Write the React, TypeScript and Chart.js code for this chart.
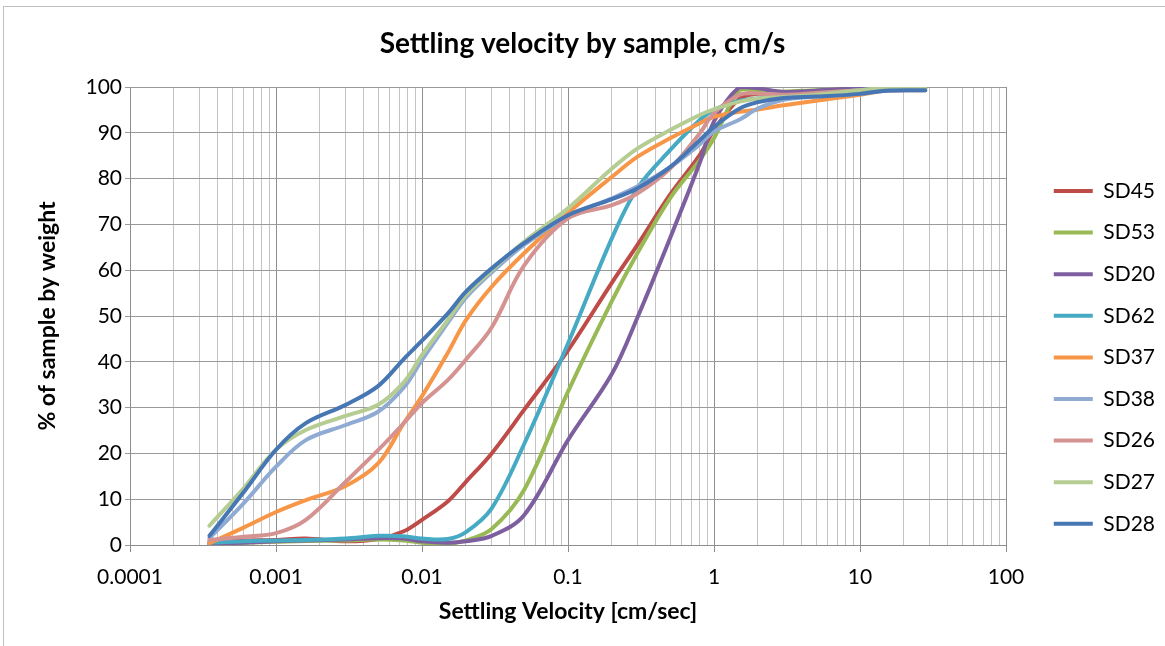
import React, { useEffect, useRef } from 'react';
import { Chart, registerables } from 'chart.js';

Chart.register(...registerables);

// Settling velocity (cm/s) at which each percentage was read
const velocities = [0.00035, 0.0006, 0.001, 0.0016, 0.003, 0.005, 0.0075, 0.01, 0.015, 0.02, 0.03, 0.05, 0.1, 0.2, 0.3, 0.5, 0.8, 1, 1.5, 2, 3, 5, 10, 15, 28];

const sd45 = [0.7, 1.0, 1.1, 1.4, 0.8, 1.3, 3.0, 5.5, 9.5, 13.8, 20.0, 29.5, 42.5, 57.3, 65.6, 76.5, 85.2, 90.6, 97.5, 98.5, 98.6, 99.0, 99.5, 99.7, 99.7];
const sd53 = [0.2, 0.5, 0.7, 0.9, 1.0, 1.2, 1.0, 0.5, 0.3, 1.0, 3.5, 12.0, 33.5, 53.3, 63.8, 75.7, 84.1, 88.8, 99.3, 99.0, 99.0, 99.3, 99.6, 99.8, 99.8];
const sd20 = [0.3, 0.5, 0.8, 1.0, 1.2, 1.5, 1.4, 0.8, 0.5, 0.8, 2.0, 6.5, 22.9, 37.4, 49.8, 67.0, 83.5, 92.5, 100, 99.7, 98.9, 99.2, 99.8, 100, 100];
const sd62 = [0.5, 0.8, 1.0, 1.1, 1.4, 2.0, 1.9, 1.4, 1.3, 2.8, 8.0, 22.0, 44.0, 67.0, 78.0, 86.2, 92.8, 95.0, 97.0, 97.5, 98.0, 98.5, 99.3, 99.7, 99.7];
const sd37 = [0.4, 3.8, 7.2, 9.8, 12.9, 17.8, 26.6, 32.5, 41.9, 49.1, 56.4, 63.7, 72.5, 80.4, 84.8, 88.8, 92.1, 93.5, 94.6, 95.1, 96.0, 97.0, 98.3, 99.2, 99.3];
const sd38 = [1.5, 9.1, 17.1, 22.9, 26.2, 29.1, 34.4, 40.4, 48.5, 54.0, 59.5, 65.5, 71.8, 75.7, 78.3, 82.5, 87.5, 90.3, 92.9, 95.3, 97.2, 97.9, 98.5, 99.2, 99.3];
const sd26 = [1.1, 1.8, 2.6, 5.5, 13.8, 20.7, 26.6, 31.0, 36.0, 40.5, 47.5, 61.0, 71.3, 74.2, 76.8, 82.2, 89.9, 94.3, 98.3, 98.6, 98.3, 98.7, 99.3, 99.7, 99.7];
const sd27 = [4.2, 12.4, 20.8, 25.1, 28.2, 30.6, 35.5, 41.5, 49.1, 54.6, 60.0, 66.2, 73.5, 82.2, 86.6, 90.6, 93.9, 95.1, 96.8, 97.5, 97.8, 98.3, 99.3, 99.8, 99.8];
const sd28 = [2.0, 11.5, 20.8, 26.6, 30.6, 34.7, 40.6, 44.6, 50.5, 55.3, 60.4, 65.9, 72.0, 75.5, 77.9, 82.5, 88.4, 91.3, 95.3, 96.7, 97.6, 97.9, 98.5, 99.2, 99.3];

const seriesNames = ['SD45', 'SD53', 'SD20', 'SD62', 'SD37', 'SD38', 'SD26', 'SD27', 'SD28'];
const seriesValues = [sd45, sd53, sd20, sd62, sd37, sd38, sd26, sd27, sd28];
const seriesColors = ['#BE4B48', '#98B954', '#7D5FA0', '#46AAC5', '#F79646', '#8FAAD3', '#D49290', '#B5CC92', '#4676B4'];

const decadeTicks = [0.0001, 0.001, 0.01, 0.1, 1, 10, 100];
const decadeLabels = ['0.0001', '0.001', '0.01', '0.1', '1', '10', '100'];
const yTicks = [0, 10, 20, 30, 40, 50, 60, 70, 80, 90, 100];

const FONT = 'Lato, "Open Sans", sans-serif';
const W = 1165;
const H = 646;

const isDecade = (v: number) => {
  const l = Math.log10(v);
  return Math.abs(l - Math.round(l)) < 1e-9;
};

const labelFor = (v: number) => {
  for (let i = 0; i < decadeTicks.length; i++) {
    if (Math.abs(Math.log10(v) - Math.log10(decadeTicks[i])) < 1e-9) return decadeLabels[i];
  }
  return '';
};

export default function App() {
  const ref = useRef<HTMLCanvasElement | null>(null);

  useEffect(() => {
    if (!ref.current) return;
    const gridValues: number[] = [];
    for (let d = 0; d < decadeTicks.length - 1; d++) {
      for (let m = 1; m <= 9; m++) gridValues.push(decadeTicks[d] * m);
    }
    gridValues.push(decadeTicks[decadeTicks.length - 1]);

    const datasets = seriesNames.map((name, i) => ({
      label: name,
      data: seriesValues[i].map((y, k) => ({ x: velocities[k], y })),
      borderColor: seriesColors[i],
      backgroundColor: seriesColors[i],
      borderWidth: 4,
      borderCapStyle: 'round' as const,
      borderJoinStyle: 'round' as const,
      pointRadius: 0,
      pointHoverRadius: 0,
      tension: 0.35,
      fill: false,
      order: seriesNames.length - i,
    }));

    const chart = new Chart(ref.current, {
      type: 'line',
      data: { datasets },
      options: {
        animation: false,
        responsive: false,
        maintainAspectRatio: false,
        events: [],
        layout: { padding: 0 },
        plugins: {
          title: {
            display: true,
            text: 'Settling velocity by sample, cm/s',
            color: '#000',
            font: { family: FONT, size: 28, weight: 'bold', lineHeight: 1.2 },
            padding: { top: 27.2, bottom: 26.2 },
          },
          legend: {
            display: true,
            position: 'right',
            align: 'start',
            title: {
              display: true,
              text: '',
              font: { size: 10, lineHeight: 1.2 },
              padding: { top: 147.9, bottom: 0 },
            },
            labels: {
              usePointStyle: true,
              pointStyle: 'line',
              pointStyleWidth: 39,
              color: '#000',
              font: { family: FONT, size: 21 },
              padding: 20.6,
              sort: (a: any, b: any) => a.datasetIndex - b.datasetIndex,
            },
          },
          tooltip: { enabled: false },
        },
        scales: {
          x: {
            type: 'logarithmic',
            min: 0.0001,
            max: 100,
            afterBuildTicks: (scale: any) => {
              scale.ticks = gridValues.map((v) => ({ value: v, major: false }));
            },
            afterFit: (scale: any) => {
              scale.height = H - 545;
            },
            ticks: {
              autoSkip: false,
              maxRotation: 0,
              minRotation: 0,
              color: '#000',
              font: { family: FONT, size: 21 },
              padding: 13,
              callback: (v: any) => labelFor(Number(v)),
            },
            grid: {
              color: (c: any) => (c.tick && isDecade(c.tick.value) ? '#8E8E8E' : '#C4C4C4'),
              tickColor: (c: any) => (c.tick && isDecade(c.tick.value) ? '#8E8E8E' : 'rgba(0,0,0,0)'),
              tickLength: 7,
              lineWidth: 1,
            },
            border: { display: true, color: '#8E8E8E' },
            title: {
              display: true,
              text: 'Settling Velocity [cm/sec]',
              color: '#000',
              font: { family: FONT, size: 23, weight: 'bold', lineHeight: 1.2 },
              padding: { top: 0, bottom: 20.2 },
            },
          },
          y: {
            type: 'linear',
            min: 0,
            max: 100,
            afterBuildTicks: (scale: any) => {
              scale.ticks = yTicks.map((v) => ({ value: v }));
            },
            afterFit: (scale: any) => {
              scale.width = 130;
            },
            ticks: {
              color: '#000',
              font: { family: FONT, size: 21 },
              padding: 3,
            },
            grid: { color: '#9A9A9A', tickColor: '#9A9A9A', tickLength: 5, lineWidth: 1 },
            border: { display: true, color: '#8E8E8E' },
            title: {
              display: true,
              text: '% of sample by weight',
              color: '#000',
              font: { family: FONT, size: 23, weight: 'bold', lineHeight: 1.2 },
              padding: { top: 34.2, bottom: 0 },
            },
          },
          spacer: {
            type: 'linear',
            position: 'right',
            display: true,
            grid: { display: false },
            border: { display: false },
            ticks: { display: false },
            afterFit: (scale: any) => {
              const lg = scale.chart.legend;
              scale.width = Math.max(0, W - 1006 - (lg ? lg.width : 0));
            },
          },
        },
      },
    } as any);

    return () => chart.destroy();
  }, []);

  return (
    <div style={{ position: 'absolute', left: 0, top: 0, width: W, height: H, background: '#fff', overflow: 'hidden' }}>
      <div
        style={{
          position: 'absolute',
          left: 3,
          top: 6,
          width: W + 10,
          height: H + 10,
          border: '1px solid #BFBFBF',
          boxSizing: 'border-box',
        }}
      />
      <canvas ref={ref} width={W} height={H} style={{ position: 'absolute', left: 0, top: 0, display: 'block' }} />
    </div>
  );
}
